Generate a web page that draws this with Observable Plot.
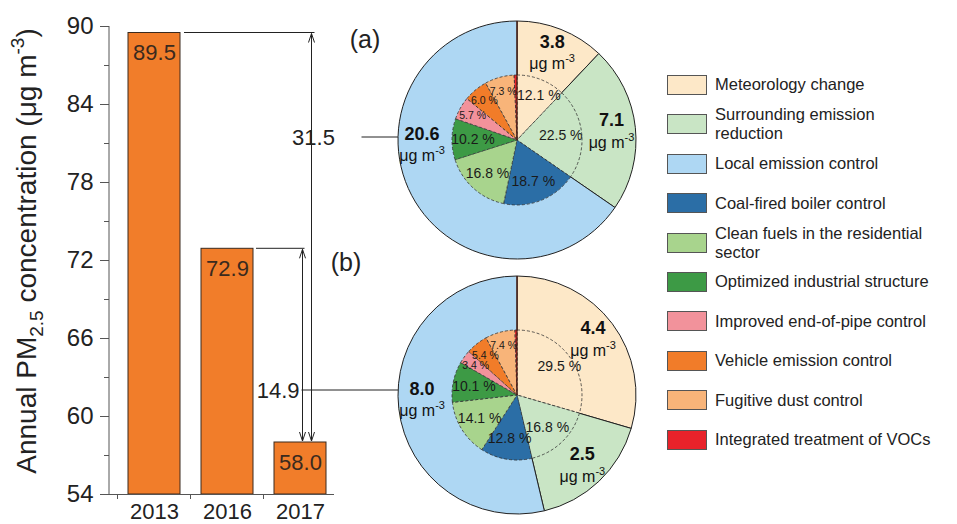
<!DOCTYPE html>
<html>
<head>
<meta charset="utf-8">
<script src="https://cdn.jsdelivr.net/npm/d3@7"></script>
<script src="https://cdn.jsdelivr.net/npm/@observablehq/plot@0.6"></script>
<style>
  body { margin: 0; background: #fff; }
  #wrap { position: relative; width: 957px; height: 524px; font-family: "Liberation Sans", Arial, sans-serif; }
</style>
</head>
<body>
<div id="wrap"></div>
<script>
// ---------------- data ----------------
const years = ["2013", "2016", "2017"];
const pm25 = [89.5, 72.9, 58.0];
const yDomain = [54, 90];
const yMajorTicks = [54, 60, 66, 72, 78, 84, 90];
const yMinorTicks = [57, 63, 69, 75, 81, 87];
const panelLabels = ["(a)", "(b)"];

const categories = [
  "Meteorology change",
  "Surrounding emission reduction",
  "Local emission control",
  "Coal-fired boiler control",
  "Clean fuels in the residential sector",
  "Optimized industrial structure",
  "Improved end-of-pipe control",
  "Vehicle emission control",
  "Fugitive dust control",
  "Integrated treatment of VOCs"
];
const categoryColors = [
  "#fde8c8", "#c9e5c5", "#aed7f3", "#2b6ea6", "#a8d48d",
  "#3d9a45", "#f2929b", "#f17c29", "#f8b479", "#e8222a"
];
const outerCategories = categories.slice(0, 3);
const innerCategories = [categories[0], categories[1], ...categories.slice(3)];

// (a) 2013 -> 2017 ; (b) 2016 -> 2017
const outerA = [3.8, 7.1, 20.6];
const innerA = [12.1, 22.5, 18.7, 16.8, 10.2, 5.7, 6.0, 7.3, 0.7];
const outerB = [4.4, 2.5, 8.0];
const innerB = [29.5, 16.8, 12.8, 14.1, 10.1, 3.4, 5.4, 7.4, 0.5];

// ---------------- layout ----------------
const W = 957, H = 524;
const FONT = '"Liberation Sans", Arial, sans-serif';
const INK = "#222";
const BAR = "#f17d2a";
const PIE = {cx: 517, cyA: 140, cyB: 395, R: 119, r: 65};
const legendWrap = {"Surrounding emission reduction": 20, "Clean fuels in the residential sector": 30};

const color = Plot.scale({color: {type: "ordinal", domain: categories, range: categoryColors}});
const fill = c => color.apply(c);

const bars = years.map((year, i) => ({year, value: pm25[i]}));

// ---------------- custom marks ----------------
function frameMark(index, scales, values, dims) {
  const {x, y} = scales;
  const bw = x.bandwidth ? x.bandwidth() : 52;
  const step = x.step ? x.step() : 73.5;
  const g = d3.create("svg:g").attr("stroke", "#555").attr("stroke-width", 1);
  g.append("line").attr("x1", dims.marginLeft).attr("x2", dims.marginLeft)
    .attr("y1", y(yDomain[1])).attr("y2", y(yDomain[0]));
  years.forEach(yr => {
    const bx = x(yr) - (step - bw) / 2;
    g.append("line").attr("x1", bx).attr("x2", bx).attr("y1", y(yDomain[0])).attr("y2", y(yDomain[0]) + 5);
  });
  return g.node();
}

function yTitleMark(index, scales, values, dims) {
  const cy = (scales.y(yDomain[0]) + scales.y(yDomain[1])) / 2;
  const t = d3.create("svg:text")
    .attr("transform", `translate(${dims.marginLeft - 73},${cy - 9}) rotate(-90)`)
    .attr("text-anchor", "middle").attr("font-size", 28).attr("fill", INK).attr("font-family", FONT);
  t.append("tspan").text("Annual PM");
  t.append("tspan").attr("dy", 7).attr("font-size", 19).text("2.5");
  t.append("tspan").attr("dy", -7).text(" concentration (μg m");
  t.append("tspan").attr("dy", -12).attr("font-size", 19).text("-3");
  t.append("tspan").attr("dy", 12).text(")");
  return t.node();
}

function arrow(g, x, y1, y2) {
  g.append("line").attr("x1", x).attr("x2", x).attr("y1", y1).attr("y2", y2);
  g.append("path").attr("d", `M${x - 3},${y1 + 9}L${x},${y1}L${x + 3},${y1 + 9}`);
  g.append("path").attr("d", `M${x - 3},${y2 - 9}L${x},${y2}L${x + 3},${y2 - 9}`);
}

function annotationMark(index, scales) {
  const {x, y} = scales;
  const bw = x.bandwidth ? x.bandwidth() : 52;
  const right = yr => x(yr) + bw;
  const mid = yr => x(yr) + bw / 2;
  const xr = mid(years[2]) + 11.5, xl = mid(years[2]) + 2.5;
  const g = d3.create("svg:g");
  const lines = g.append("g").attr("stroke", "#222").attr("stroke-width", 1).attr("fill", "none");
  lines.append("line").attr("x1", right(years[0]) + 4).attr("x2", xr + 3)
    .attr("y1", y(pm25[0])).attr("y2", y(pm25[0]));
  lines.append("line").attr("x1", right(years[1]) + 3).attr("x2", xl + 2)
    .attr("y1", y(pm25[1])).attr("y2", y(pm25[1]));
  arrow(lines, xr, y(pm25[0]) + 1, y(pm25[2]) - 1);
  arrow(lines, xl, y(pm25[1]) + 1, y(pm25[2]) - 1);
  // reduction labels + leaders to the pies
  const dA = (pm25[0] - pm25[2]).toFixed(1), dB = (pm25[1] - pm25[2]).toFixed(1);
  const yA = PIE.cyA - 3, yB = PIE.cyB - 5;
  lines.append("line").attr("x1", xr + 50).attr("x2", PIE.cx - PIE.R).attr("y1", yA).attr("y2", yA);
  lines.append("line").attr("x1", xl - 1).attr("x2", PIE.cx - PIE.R).attr("y1", yB).attr("y2", yB);
  const txt = g.append("g").attr("font-size", 22).attr("fill", INK).attr("font-family", FONT);
  txt.append("text").attr("x", xr + 2).attr("y", yA).attr("dy", "0.35em").text(dA);
  txt.append("text").attr("x", xl - 3).attr("y", yB).attr("dy", "0.35em").attr("text-anchor", "end").text(dB);
  // panel labels
  txt.append("text").attr("x", PIE.cx - 152).attr("y", PIE.cyA - 101).attr("dy", "0.35em")
    .attr("font-size", 25).attr("text-anchor", "middle").text(panelLabels[0]);
  txt.append("text").attr("x", PIE.cx - 171).attr("y", PIE.cyB - 133).attr("dy", "0.35em")
    .attr("font-size", 25).attr("text-anchor", "middle").text(panelLabels[1]);
  return g.node();
}

function pieMark(outerVals, innerVals, cy) {
  return () => {
    const g = d3.create("svg:g").attr("transform", `translate(${PIE.cx},${cy})`).attr("font-family", FONT);
    const pie = d3.pie().sort(null).startAngle(0).endAngle(2 * Math.PI);
    const outerArcs = pie(outerVals);
    const arcO = d3.arc().innerRadius(0).outerRadius(PIE.R);
    g.append("g").selectAll("path").data(outerArcs).join("path")
      .attr("d", arcO).attr("fill", (d, i) => fill(outerCategories[i]))
      .attr("stroke", "#222").attr("stroke-width", 1).attr("stroke-linejoin", "round");
    // outer value labels
    const lab = g.append("g").attr("fill", "#111").attr("text-anchor", "middle");
    outerArcs.forEach((a, i) => {
      const ang = i === 2 ? 268 * Math.PI / 180 : (a.startAngle + a.endAngle) / 2;
      const px = Math.sin(ang) * 95, py = -Math.cos(ang) * 95;
      lab.append("text").attr("x", px).attr("y", py - 10).attr("dy", "0.35em")
        .attr("font-size", 18).attr("font-weight", "bold").text(a.data.toFixed(1));
      const u = lab.append("text").attr("x", px).attr("y", py + 12).attr("dy", "0.35em").attr("font-size", 16);
      u.append("tspan").text("μg m");
      u.append("tspan").attr("dy", -7).attr("font-size", 11).text("-3");
    });
    // inner pie
    const innerArcs = pie(innerVals);
    const arcI = d3.arc().innerRadius(0).outerRadius(PIE.r);
    g.append("g").selectAll("path").data(innerArcs).join("path")
      .attr("d", arcI).attr("fill", (d, i) => fill(innerCategories[i]))
      .attr("stroke", "#333").attr("stroke-width", 0.8).attr("stroke-dasharray", "3,2");
    g.append("line").attr("x1", 0).attr("x2", 0).attr("y1", 0).attr("y2", -PIE.R)
      .attr("stroke", "#4a1a10").attr("stroke-width", 1.2);
    const il = g.append("g").attr("fill", "#1a1a1a").attr("text-anchor", "middle");
    innerArcs.forEach((a, i) => {
      if (a.data < 1) return;
      const small = a.data < 9;
      const ang = (a.startAngle + a.endAngle) / 2;
      const rr = small ? 51 : (i === 0 ? 48 : 44);
      il.append("text").attr("x", Math.sin(ang) * rr + (i === 0 ? 4 : 0)).attr("y", -Math.cos(ang) * rr)
        .attr("dy", "0.35em").attr("font-size", small ? 10.5 : 14).text(`${a.data.toFixed(1)} %`);
    });
    return g.node();
  };
}

// ---------------- plot ----------------
const chart = Plot.plot({
  width: W, height: H,
  marginTop: 26, marginBottom: 30, marginLeft: 109, marginRight: W - 334,
  style: {fontFamily: FONT, background: "white", color: INK, overflow: "visible"},
  x: {domain: years, range: [105.7, 347.5], padding: 0.29, axis: null, label: null},
  y: {domain: yDomain, axis: null, label: null},
  marks: [
    Plot.barY(bars, {x: "year", y1: yDomain[0], y2: "value", fill: BAR, stroke: "#3a2a1e", strokeWidth: 1}),
    Plot.text(bars, {x: "year", y: "value", text: d => d.value.toFixed(1), dy: 20, fontSize: 22, fill: "#3a2a1e"}),
    Plot.ruleY([yDomain[0]], {stroke: "#555"}),
    Plot.axisY({ticks: yMajorTicks, tickSize: 9, tickPadding: 7, fontSize: 24, stroke: "#555", fill: INK, label: null}),
    Plot.axisY({ticks: yMinorTicks, tickSize: 5, tickFormat: () => "", stroke: "#555", label: null}),
    Plot.axisX({tickSize: 0, tickPadding: 9, fontSize: 22, fill: INK, label: null}),
    frameMark,
    yTitleMark,
    pieMark(outerA, innerA, PIE.cyA),
    pieMark(outerB, innerB, PIE.cyB),
    annotationMark
  ]
});

const wrap = document.getElementById("wrap");
wrap.appendChild(chart);

// ---------------- legend ----------------
const legend = d3.select(wrap).append("div")
  .style("position", "absolute").style("left", "667px").style("top", "0px");
categories.forEach((c, i) => {
  const row = legend.append("div")
    .style("position", "absolute").style("left", "0px").style("top", `${65.3 + i * 39.4}px`)
    .style("height", "39.4px").style("display", "flex").style("align-items", "center")
    .style("white-space", "nowrap");
  row.append("div").style("width", "40px").style("height", "20px").style("box-sizing", "border-box")
    .style("border", "1px solid #555").style("background", fill(c)).style("flex", "none");
  const t = row.append("div").style("margin-left", "8px").style("font-size", "16.5px")
    .style("line-height", "19px").style("color", INK);
  const cut = legendWrap[c];
  if (cut) {
    t.append("span").text(c.slice(0, cut));
    t.append("br");
    t.append("span").text(c.slice(cut + 1));
  } else {
    t.text(c);
  }
});
</script>
</body>
</html>
